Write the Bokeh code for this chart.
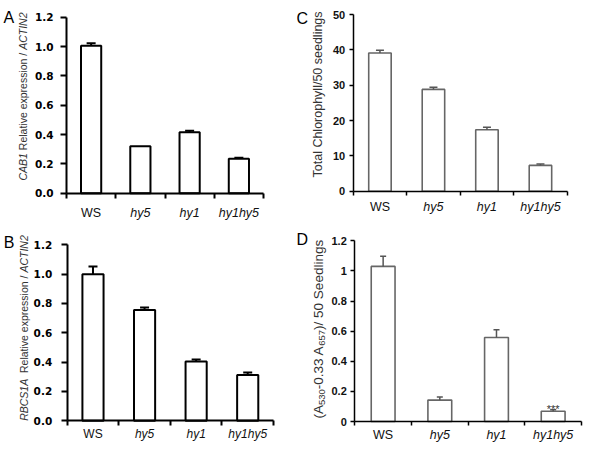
import math
from bokeh.plotting import figure
from bokeh.models import (Range1d, FixedTicker, Label, Whisker, TeeHead, ColumnDataSource,
                          PrintfTickFormatter)
from bokeh.layouts import gridplot
from bokeh.embed import file_html
from bokeh.resources import INLINE

# ---------------- data ----------------
categories = ["WS", "hy5", "hy1", "hy1hy5"]
category_italic = [False, True, True, True]

cab1_values = [1.005, 0.32, 0.415, 0.235]
cab1_errors = [0.018, 0.0, 0.011, 0.006]

rbcs1a_values = [1.0, 0.755, 0.405, 0.312]
rbcs1a_errors = [0.052, 0.017, 0.013, 0.017]

chlorophyll_values = [39.1, 28.8, 17.4, 7.3]
chlorophyll_errors = [0.8, 0.6, 0.7, 0.4]

anthocyanin_values = [1.03, 0.142, 0.558, 0.068]
anthocyanin_errors = [0.068, 0.02, 0.051, 0.01]

expression_ticks = [0, 0.2, 0.4, 0.6, 0.8, 1.0, 1.2]
chlorophyll_ticks = [0, 10, 20, 30, 40, 50]
anthocyanin_ticks = [0, 0.2, 0.4, 0.6, 0.8, 1.0, 1.2]

SANS = "Liberation Sans"


def make_panel(values, errors, y_top, yticks, width, height, frame_px, st):
    # frame_px: canvas pixel positions of x=0, x=n, y=0, y=y_top
    x0px, x1px, y0px, y1px = frame_px
    n = len(values)
    xs = [i + 0.5 for i in range(n)]
    ppx = (x1px - x0px) / n
    ppy = (y0px - y1px) / y_top
    x_range = Range1d(-x0px / ppx, n + (width - x1px) / ppx)
    y_range = Range1d(-(height - y0px) / ppy, y_top + y1px / ppy)

    p = figure(width=width, height=height, x_range=x_range, y_range=y_range,
               output_backend="svg", toolbar_location=None, tools="",
               min_border=0, min_border_left=0, min_border_right=0,
               min_border_top=0, min_border_bottom=0)
    p.outline_line_color = None
    p.xgrid.visible = False
    p.ygrid.visible = False
    p.background_fill_color = "white"
    p.border_fill_color = "white"

    p.vbar(x=xs, top=values, bottom=0, width=st["bar_width"], fill_color="white",
           line_color=st["bar_line"], line_width=st["bar_lw"])

    ex = [xs[i] for i in range(n) if errors[i] > 0]
    lo = [values[i] for i in range(n) if errors[i] > 0]
    up = [values[i] + errors[i] for i in range(n) if errors[i] > 0]
    src = ColumnDataSource(dict(x=ex, lower=lo, upper=up))
    wh = Whisker(base="x", lower="lower", upper="upper", source=src, dimension="height",
                 line_color=st["err_color"], line_width=st["err_lw"],
                 upper_head=TeeHead(size=st["cap"], line_color=st["err_color"], line_width=st["err_lw"]),
                 lower_head=None, level="overlay")
    p.add_layout(wh)

    # y axis, drawn at x = 0
    ya = p.yaxis[0]
    ya.fixed_location = 0
    ya.bounds = (0, y_top)
    ya.ticker = FixedTicker(ticks=yticks)
    ya.axis_line_width = st["axis_lw"]
    ya.axis_line_color = "black"
    ya.major_tick_line_width = st["axis_lw"]
    ya.major_tick_in = 0
    ya.major_tick_out = st["ytick_out"]
    ya.minor_tick_line_color = None
    ya.major_label_standoff = st["ystandoff"]
    ya.major_label_text_font = st["ytick_font"]
    ya.major_label_text_font_size = st["ytick_size"]
    ya.major_label_text_font_style = "bold"
    ya.major_label_text_color = st["ytick_color"]
    if st.get("yformat"):
        ya.formatter = PrintfTickFormatter(format=st["yformat"])

    # x axis, drawn at y = 0, ticks at category boundaries
    xa = p.xaxis[0]
    xa.fixed_location = 0
    xa.bounds = (0, n)
    xa.ticker = FixedTicker(ticks=list(range(n + 1)))
    xa.major_label_overrides = {i: "" for i in range(n + 1)}
    xa.major_label_text_font_size = "1px"
    xa.axis_line_width = st["axis_lw"]
    xa.axis_line_color = "black"
    xa.major_tick_line_width = st["axis_lw"]
    xa.major_tick_in = 0
    xa.major_tick_out = st["xtick_out"]
    xa.minor_tick_line_color = None

    for i, c in enumerate(categories):
        p.add_layout(Label(x=xs[i], y=0, y_offset=st["cat_offset"], text=c,
                           text_align="center", text_baseline="alphabetic",
                           text_font=SANS, text_font_size=st["cat_size"],
                           text_font_style="italic" if category_italic[i] else "normal",
                           text_color="#111111"))

    # rotated y label made of segments
    for (txt, style, start, fsize, perp) in st["ylabel"]:
        p.add_layout(Label(x=0, y=0, x_offset=st["ylabel_x"] + perp,
                           y_offset=st["ylabel_start"] + start, text=txt, angle=math.pi / 2,
                           text_align="left", text_baseline="middle", text_font=SANS,
                           text_font_size=fsize, text_font_style=style,
                           text_color=st["ylabel_color"]))

    # panel letter (position given in canvas pixels: left edge, baseline)
    lx, lb = st["letter_pos"]
    p.add_layout(Label(x=0, y=y_top, x_offset=lx - x0px, y_offset=y1px - lb,
                       text=st["letter"], text_align="left", text_baseline="alphabetic",
                       text_font=SANS, text_font_size="16px", text_color="black"))
    return p, xs


style_ab = dict(bar_width=0.41, bar_line="black", bar_lw=2, axis_lw=2,
                ytick_out=6, ytick_font="DejaVu Sans", ytick_size="10.5px", ytick_color="black",
                xtick_out=5, err_color="black", err_lw=2, cap=9, cat_size="12.5px",
                ylabel_color="#333333", yformat="%.1f")

style_a = dict(style_ab, ystandoff=7, cat_offset=-19.5, ylabel_x=-43.5, ylabel_start=12.7,
               letter="A", letter_pos=(3, 17.3),
               ylabel=[("CAB1", "italic", 0, "10.5px", 0),
                       ("Relative expression /", "normal", 30.3, "10.5px", 0),
                       ("ACTIN2", "italic", 130.7, "10.5px", 0)])
style_b = dict(style_ab, ystandoff=9, cat_offset=-13.5, ylabel_x=-43.7, ylabel_start=0,
               letter="B", letter_pos=(3.3, 22), cat_size="12px",
               ylabel=[("RBCS1A", "italic", 0, "10.5px", 0),
                       ("Relative expression /", "normal", 47.8, "10.5px", 0),
                       ("ACTIN2", "italic", 148.2, "10.5px", 0)])

style_cd = dict(bar_line="#666666", bar_lw=1.6, axis_lw=1.5,
                ytick_out=4, ystandoff=4, ytick_font=SANS, ytick_size="11px", ytick_color="#111111",
                xtick_out=4, err_color="#555555", err_lw=1.5, cat_size="12.5px",
                ylabel_color="#333333")

style_c = dict(style_cd, bar_width=0.42, cap=8, cat_offset=-15.5, ylabel_x=-35.2, ylabel_start=13.7,
               letter="C", letter_pos=(0, 18.3),
               ylabel=[("Total Chlorophyll/50 seedlings", "normal", 0, "12.5px", 0)])
style_d = dict(style_cd, bar_width=0.42, cap=6, cat_offset=-13.5, ylabel_x=-36.6, ylabel_start=3,
               letter="D", letter_pos=(0, 18.7),
               ylabel=[("(A", "normal", 0, "13.5px", 0),
                       ("530", "normal", 13.5, "9.5px", 3.4),
                       ("-0.33 A", "normal", 29.3, "13.5px", 0),
                       ("657", "normal", 72.8, "9.5px", 3.4),
                       (")/ 50 Seedlings", "normal", 88.6, "13.5px", 0)])

pa, _ = make_panel(cab1_values, cab1_errors, 1.2, expression_ticks, 296, 220,
                   (66, 263, 192.7, 16.7), style_a)
pc, _ = make_panel(chlorophyll_values, chlorophyll_errors, 50, chlorophyll_ticks, 288, 220,
                   (56.7, 270.7, 190.7, 14), style_c)
pb, _ = make_panel(rbcs1a_values, rbcs1a_errors, 1.2, expression_ticks, 296, 222,
                   (66.7, 273, 200.3, 24.3), style_b)
pd_, xs_d = make_panel(anthocyanin_values, anthocyanin_errors, 1.2, anthocyanin_ticks, 288, 222,
                       (58.3, 285, 201, 20.3), style_d)

# significance marker above hy1hy5 in panel D
pd_.add_layout(Label(x=xs_d[3], y=anthocyanin_values[3] + anthocyanin_errors[3], y_offset=1,
                     text="***", text_align="center", text_baseline="alphabetic",
                     text_font=SANS, text_font_size="11px", text_color="#333333"))

grid = gridplot([[pa, pc], [pb, pd_]], toolbar_location=None)

open("out.html", "w").write(file_html(grid, INLINE))
